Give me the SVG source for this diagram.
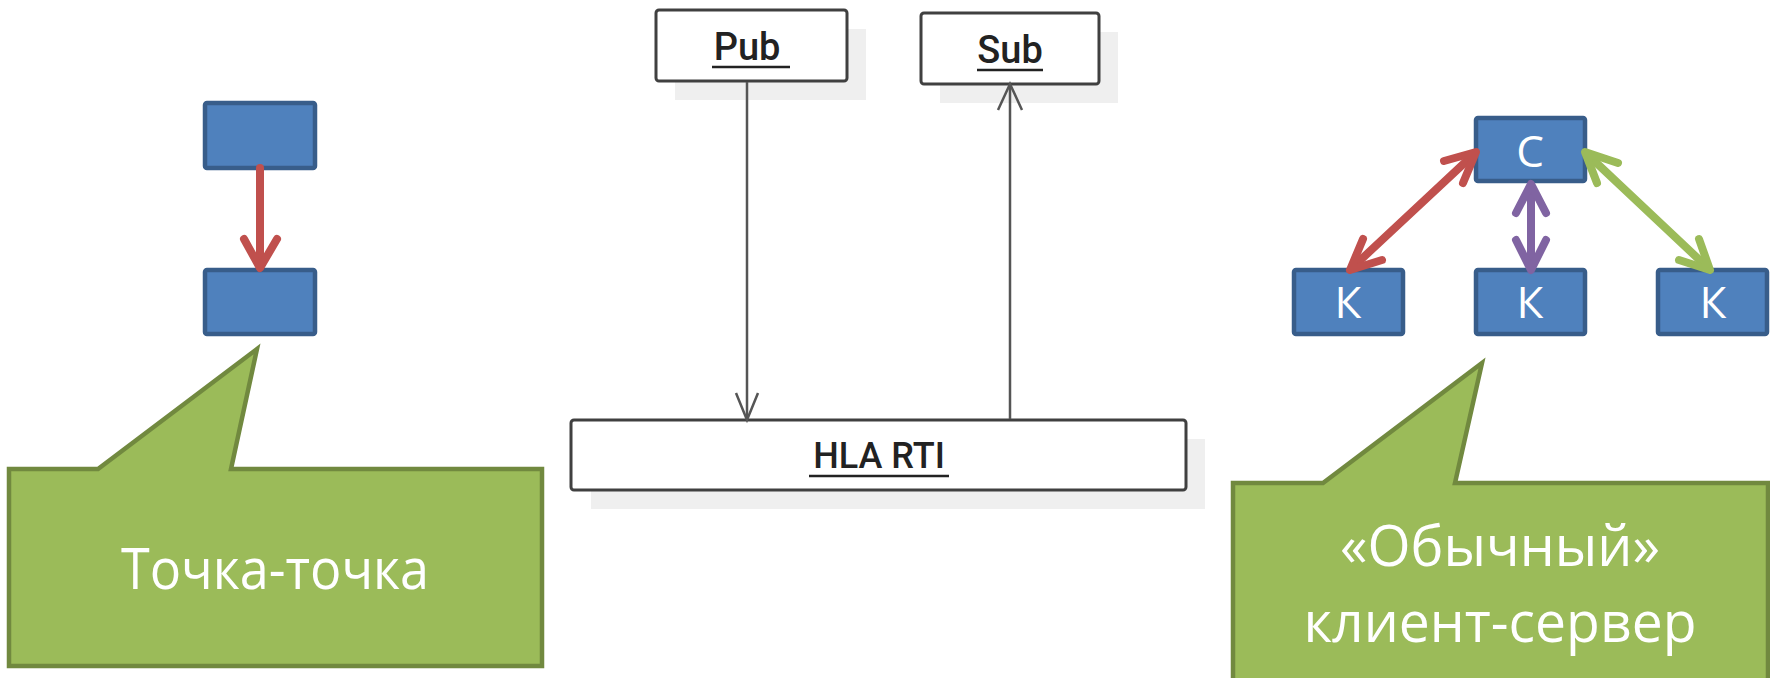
<svg xmlns="http://www.w3.org/2000/svg" width="1770" height="678" viewBox="0 0 1770 678">
<defs>
<style>
.blue{fill:#4f81bd;stroke:#385d8a;stroke-width:4.5}
.call{fill:#9bbb59;stroke:#71893f;stroke-width:4.5;stroke-linejoin:miter}
.uml{fill:#ffffff;stroke:#404040;stroke-width:3}
.shadow{fill:#efefef}
.btxt{font-family:"Open Sans","Noto Sans",sans-serif;fill:#ffffff;text-anchor:middle}
.utxt{font-family:Roboto,"Liberation Sans",sans-serif;font-weight:500;fill:#222222;text-anchor:middle}
.ul{stroke:#222222;stroke-width:2.5}
.thin{stroke:#555555;stroke-width:2.5;fill:none}
.arr{fill:none;stroke-width:8;stroke-linecap:round;stroke-linejoin:round}
</style>
</defs>
<g id="p2p-top"><rect x="205" y="103" width="110" height="65" rx="2" class="blue"/></g>
<g id="p2p-bottom"><rect x="205" y="270" width="110" height="64" rx="2" class="blue"/></g>
<g id="callout-left">
<path d="M9,469 L98,469 L257,349 L231,469 L542,469 L542,666 L9,666 Z" class="call"/>
<text x="275" y="589" class="btxt" font-size="56" textLength="308" lengthAdjust="spacingAndGlyphs">Точка-точка</text>
</g>
<g id="pub">
<rect x="675" y="29" width="191" height="71" class="shadow"/>
<rect x="656" y="10" width="191" height="71" rx="3" class="uml"/>
<text x="747" y="60" class="utxt" font-size="38">Pub</text>
<line x1="712" y1="67" x2="790" y2="67" class="ul"/>
</g>
<g id="sub">
<rect x="940" y="32" width="178" height="71" class="shadow"/>
<rect x="921" y="13" width="178" height="71" rx="3" class="uml"/>
<text x="1010" y="63" class="utxt" font-size="38">Sub</text>
<line x1="977" y1="70" x2="1043" y2="70" class="ul"/>
</g>
<g id="hla-rti">
<rect x="591" y="439" width="614" height="70" class="shadow"/>
<rect x="571" y="420" width="615" height="70" rx="3" class="uml"/>
<text x="879" y="468" class="utxt" font-size="36">HLA RTI</text>
<line x1="809" y1="476" x2="949" y2="476" class="ul"/>
</g>
<g id="server"><rect x="1476" y="118" width="109" height="63" rx="2" class="blue"/><text x="1530" y="167" class="btxt" font-size="44">С</text></g>
<g id="client1"><rect x="1294" y="270" width="109" height="64" rx="2" class="blue"/><text x="1348" y="318" class="btxt" font-size="44">К</text></g>
<g id="client2"><rect x="1476" y="270" width="109" height="64" rx="2" class="blue"/><text x="1530" y="318" class="btxt" font-size="44">К</text></g>
<g id="client3"><rect x="1658" y="270" width="109" height="64" rx="2" class="blue"/><text x="1713" y="318" class="btxt" font-size="44">К</text></g>
<g id="callout-right">
<path d="M1233,483 L1323,483 L1482,363 L1455,483 L1768,483 L1768,690 L1233,690 Z" class="call"/>
<text x="1500" y="566" class="btxt" font-size="57" textLength="320" lengthAdjust="spacingAndGlyphs">«Обычный»</text>
<text x="1500" y="642" class="btxt" font-size="57" textLength="393" lengthAdjust="spacingAndGlyphs">клиент-сервер</text>
</g>
<g id="connectors">
<line x1="260" y1="168" x2="260" y2="266" class="arr" stroke="#c0504d" stroke-linecap="butt"/>
<polyline points="244,239 260,268 277,239" class="arr" stroke="#c0504d"/>
<line x1="747" y1="82" x2="747" y2="419" class="thin"/>
<polyline points="736,393 747,420 758,393" class="thin"/>
<line x1="1010" y1="419" x2="1010" y2="85" class="thin"/>
<polyline points="998,110 1010,84 1022,110" class="thin"/>
<line x1="1473" y1="155" x2="1353" y2="267" class="arr" stroke="#c0504d"/>
<polyline points="1444,161 1476,152 1463,183" class="arr" stroke="#c0504d"/>
<polyline points="1363,239 1350,270 1382,260" class="arr" stroke="#c0504d"/>
<line x1="1531" y1="187" x2="1531" y2="267" class="arr" stroke="#8064a2"/>
<polyline points="1516,213 1531,184 1546,213" class="arr" stroke="#8064a2"/>
<polyline points="1516,240 1531,270 1546,240" class="arr" stroke="#8064a2"/>
<line x1="1588" y1="155" x2="1707" y2="267" class="arr" stroke="#9bbb59"/>
<polyline points="1618,163 1585,152 1597,183" class="arr" stroke="#9bbb59"/>
<polyline points="1699,239 1710,270 1679,260" class="arr" stroke="#9bbb59"/>
</g>
</svg>
